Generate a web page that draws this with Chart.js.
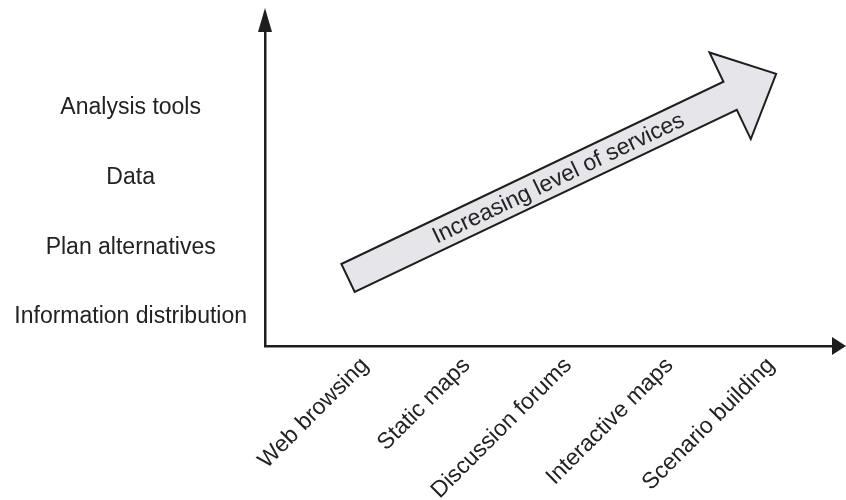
<!DOCTYPE html>
<html>
<head>
<meta charset="utf-8">
<script src="https://cdn.jsdelivr.net/npm/chart.js@4"></script>
<style>
  html, body { margin: 0; padding: 0; background: #fff; }
</style>
</head>
<body>
<canvas id="chart" width="846" height="500"></canvas>
<script>
// Categories along each axis
const serviceLabels = ['Web browsing', 'Static maps', 'Discussion forums', 'Interactive maps', 'Scenario building'];
const levelLabels = ['Information distribution', 'Plan alternatives', 'Data', 'Analysis tools'];

// Big arrow: tail and tip, in axis units
const arrowX = [-0.167, 4.05];
const arrowY = [0.56, 3.49];
const arrowText = 'Increasing level of services';

const FONT = "'Liberation Sans', Arial, sans-serif";
Chart.defaults.font.family = FONT;
Chart.defaults.color = '#222';

const ink = '#1e1e1e';

const arrowPlugin = {
    id: 'arrows',
    afterDatasetsDraw(chart) {
        const ctx = chart.ctx;
        const area = chart.chartArea;
        const pts = chart.getDatasetMeta(0).data;
        const x0 = pts[0].x, y0 = pts[0].y, x1 = pts[1].x, y1 = pts[1].y;
        const ang = Math.atan2(y1 - y0, x1 - x0);
        const len = Math.hypot(x1 - x0, y1 - y0);
        const sw = 15.5, hw = 48, hl = 51;

        ctx.save();
        ctx.translate(x0, y0);
        ctx.rotate(ang);
        ctx.beginPath();
        ctx.moveTo(0, -sw);
        ctx.lineTo(len - hl, -sw);
        ctx.lineTo(len - hl, -hw);
        ctx.lineTo(len, 0);
        ctx.lineTo(len - hl, hw);
        ctx.lineTo(len - hl, sw);
        ctx.lineTo(0, sw);
        ctx.closePath();
        ctx.fillStyle = '#e5e5ea';
        ctx.fill();
        ctx.lineWidth = 2;
        ctx.lineJoin = 'miter';
        ctx.strokeStyle = ink;
        ctx.stroke();

        ctx.fillStyle = '#222';
        ctx.font = '23px ' + FONT;
        ctx.textAlign = 'center';
        ctx.textBaseline = 'middle';
        ctx.fillText(arrowText, (len - hl) * 0.55, 1);
        ctx.restore();

        // axis arrow heads
        ctx.save();
        ctx.fillStyle = ink;
        ctx.beginPath();
        ctx.moveTo(area.left, 8);
        ctx.lineTo(area.left + 7, area.top);
        ctx.lineTo(area.left - 7, area.top);
        ctx.closePath();
        ctx.fill();
        ctx.beginPath();
        ctx.moveTo(846, area.bottom);
        ctx.lineTo(area.right, area.bottom - 9);
        ctx.lineTo(area.right, area.bottom + 9);
        ctx.closePath();
        ctx.fill();
        ctx.restore();
    }
};

new Chart(document.getElementById('chart'), {
    type: 'scatter',
    data: {
        datasets: [{
            data: arrowX.map((x, i) => ({ x: x, y: arrowY[i] })),
            showLine: false,
            pointRadius: 0
        }]
    },
    options: {
        responsive: false,
        animation: false,
        devicePixelRatio: 1,
        layout: { padding: { top: 32, right: 14, left: 0, bottom: 0 } },
        plugins: { legend: { display: false }, tooltip: { enabled: false } },
        scales: {
            x: {
                type: 'linear',
                min: -0.985,
                max: 4.6,
                grid: { display: false, drawTicks: false },
                border: { display: true, color: ink, width: 2.5 },
                afterBuildTicks: s => { s.ticks = serviceLabels.map((_, i) => ({ value: i })); },
                afterFit: s => { s.height = 154; },
                ticks: {
                    autoSkip: false,
                    minRotation: 45,
                    maxRotation: 45,
                    padding: 6,
                    font: { size: 23 },
                    color: '#222',
                    callback: v => serviceLabels[v] ?? ''
                }
            },
            y: {
                type: 'linear',
                min: -0.416,
                max: 4.09,
                grid: { display: false, drawTicks: false },
                border: { display: true, color: ink, width: 2.5 },
                afterBuildTicks: s => { s.ticks = levelLabels.map((_, i) => ({ value: i })); },
                afterFit: s => { s.width = 265; },
                ticks: {
                    crossAlign: 'center',
                    padding: 18,
                    font: { size: 23 },
                    color: '#222',
                    callback: v => levelLabels[v] ?? ''
                }
            }
        }
    },
    plugins: [arrowPlugin]
});
</script>
</body>
</html>
